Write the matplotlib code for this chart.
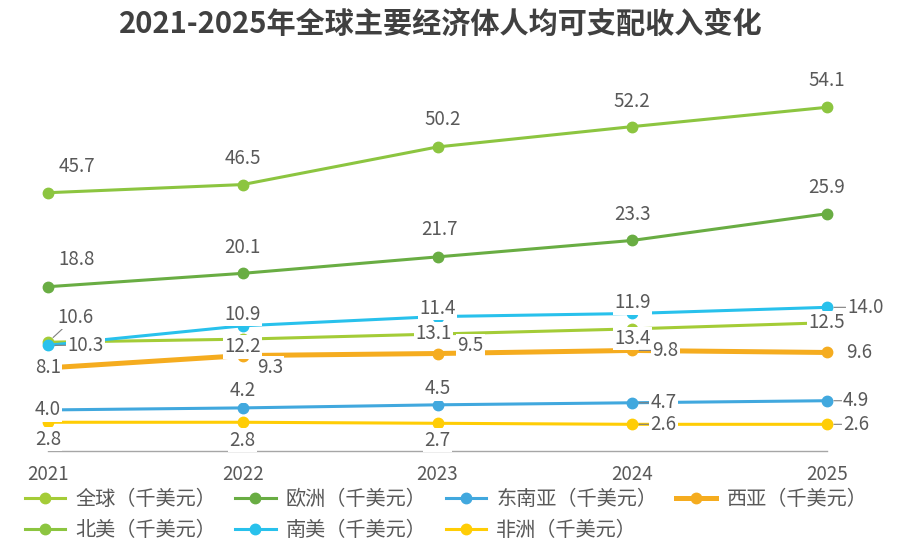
import matplotlib
matplotlib.use('Agg')
import matplotlib.pyplot as plt
from matplotlib.lines import Line2D

plt.rcParams['font.family'] = ['Noto Sans CJK SC', 'DejaVu Sans']

# data (千美元)
years = [2021, 2022, 2023, 2024, 2025]
global_avg = [10.6, 10.9, 11.4, 11.9, 12.5]
europe = [18.8, 20.1, 21.7, 23.3, 25.9]
se_asia = [4.0, 4.2, 4.5, 4.7, 4.9]
west_asia = [8.1, 9.3, 9.5, 9.8, 9.6]
north_america = [45.7, 46.5, 50.2, 52.2, 54.1]
south_america = [10.3, 12.2, 13.1, 13.4, 14.0]
africa = [2.8, 2.8, 2.7, 2.6, 2.6]

title = '2021-2025年全球主要经济体人均可支配收入变化'

# label offsets in pixels (dx, dy downwards, align, leader line)
label_pos = {
    'na': [(29, -26, 'center', 0), (0, -26, 'center', 0), (5, -27, 'center', 0), (0, -25, 'center', 0), (0, -27, 'center', 0)],
    'eu': [(29, -27, 'center', 0), (0, -26, 'center', 0), (2, -27, 'center', 0), (0, -26, 'center', 0), (0, -26, 'center', 0)],
    'gl': [(27, -25, 'center', 1), (0, -25, 'center', 0), (0, -26, 'center', 0), (0, -26, 'center', 0), (0, 0, 'center', 0)],
    'sa': [(19, 0, 'left', 1), (0, 21, 'center', 0), (-4, 17, 'center', 0), (0, 25, 'center', 0), (20, 0, 'left', 1)],
    'wa': [(0, 0, 'center', 0), (27, 12, 'center', 0), (33, -8, 'center', 0), (20, 0, 'left', 1), (19, 0, 'left', 0)],
    'se': [(0, 0, 'center', 0), (0, -17, 'center', 0), (0, -16, 'center', 0), (18, 0, 'left', 1), (16, 0, 'left', 1)],
    'af': [(0, 17, 'center', 0), (0, 18, 'center', 0), (0, 17, 'center', 0), (18, 0, 'left', 1), (16, 0, 'left', 1)],
}

colors = {
    'gl': '#A4CC37',
    'eu': '#69AD43',
    'se': '#41A8DE',
    'wa': '#F5AC1F',
    'na': '#8CC540',
    'sa': '#28C1EC',
    'af': '#FFCD05',
}
names = {
    'gl': '全球（千美元）',
    'eu': '欧洲（千美元）',
    'se': '东南亚（千美元）',
    'wa': '西亚（千美元）',
    'na': '北美（千美元）',
    'sa': '南美（千美元）',
    'af': '非洲（千美元）',
}
text_color = '#595959'
px = 0.72  # points per pixel at 100 dpi

fig = plt.figure(figsize=(9, 5.46), dpi=100)
ax = fig.add_axes([48 / 900, 95 / 546, 779 / 900, 391 / 546])
ax_eu = ax.twinx()
ax_na = ax.twinx()

ax.set_xlim(2021, 2025)
ax.set_ylim(0, 38.1)
ax_eu.set_ylim(2.82, 40.85)
ax_na.set_ylim(20.3, 58.75)

for a in (ax, ax_eu, ax_na):
    for s in ['left', 'right', 'top']:
        a.spines[s].set_visible(False)
    a.set_yticks([])
ax_eu.spines['bottom'].set_visible(False)
ax_na.spines['bottom'].set_visible(False)
ax.spines['bottom'].set_color('#A6A6A6')
ax.spines['bottom'].set_linewidth(1.0)
ax.set_xticks(years)
ax.set_xticklabels([str(y) for y in years])
ax.tick_params(axis='x', length=0, pad=9, labelsize=13.5, labelcolor=text_color)

series = [
    ('gl', ax, global_avg, 2.2),
    ('sa', ax, south_america, 2.2),
    ('wa', ax, west_asia, 3.6),
    ('se', ax, se_asia, 2.2),
    ('af', ax, africa, 2.2),
    ('eu', ax_eu, europe, 2.2),
    ('na', ax_na, north_america, 2.2),
]

handles = {}
for key, a, vals, lw in series:
    a.plot(years, vals, color=colors[key], lw=lw, marker='o', markersize=7.5,
           clip_on=False, zorder=2, solid_capstyle='round')
    handles[key] = Line2D([], [], color=colors[key], lw=lw, marker='o', markersize=7.5)

# data labels
for key, a, vals, lw in series:
    for x, v, (dx, dy, ha, leader) in zip(years, vals, label_pos[key]):
        kw = {}
        if leader:
            kw['arrowprops'] = dict(arrowstyle='-', color='#7F7F7F', lw=0.8,
                                    shrinkA=0, shrinkB=5)
        a.annotate(f'{v:.1f}', xy=(x, v), xytext=(dx * px, -dy * px),
                   textcoords='offset points', ha=ha, va='center',
                   fontsize=13.5, color=text_color, zorder=5,
                   annotation_clip=False,
                   bbox=dict(facecolor='white', edgecolor='none', pad=1.0), **kw)

fig.text(441 / 900, 1 - 24 / 546, title, ha='center', va='center',
         fontsize=21, fontweight='bold', color='#404040')

# legend, column-major order so rows read like the reference
order = ['gl', 'na', 'eu', 'sa', 'se', 'af', 'wa']
fig.legend([handles[k] for k in order], [names[k] for k in order],
           loc='upper left', bbox_to_anchor=(25 / 900, 1 - 489 / 546),
           ncol=4, frameon=False, fontsize=14.5, labelcolor=text_color,
           handlelength=2.0, handletextpad=0.5, columnspacing=0.95,
           borderpad=0, borderaxespad=0, labelspacing=0.5)

fig.savefig('out.png', dpi=100, facecolor='white')
